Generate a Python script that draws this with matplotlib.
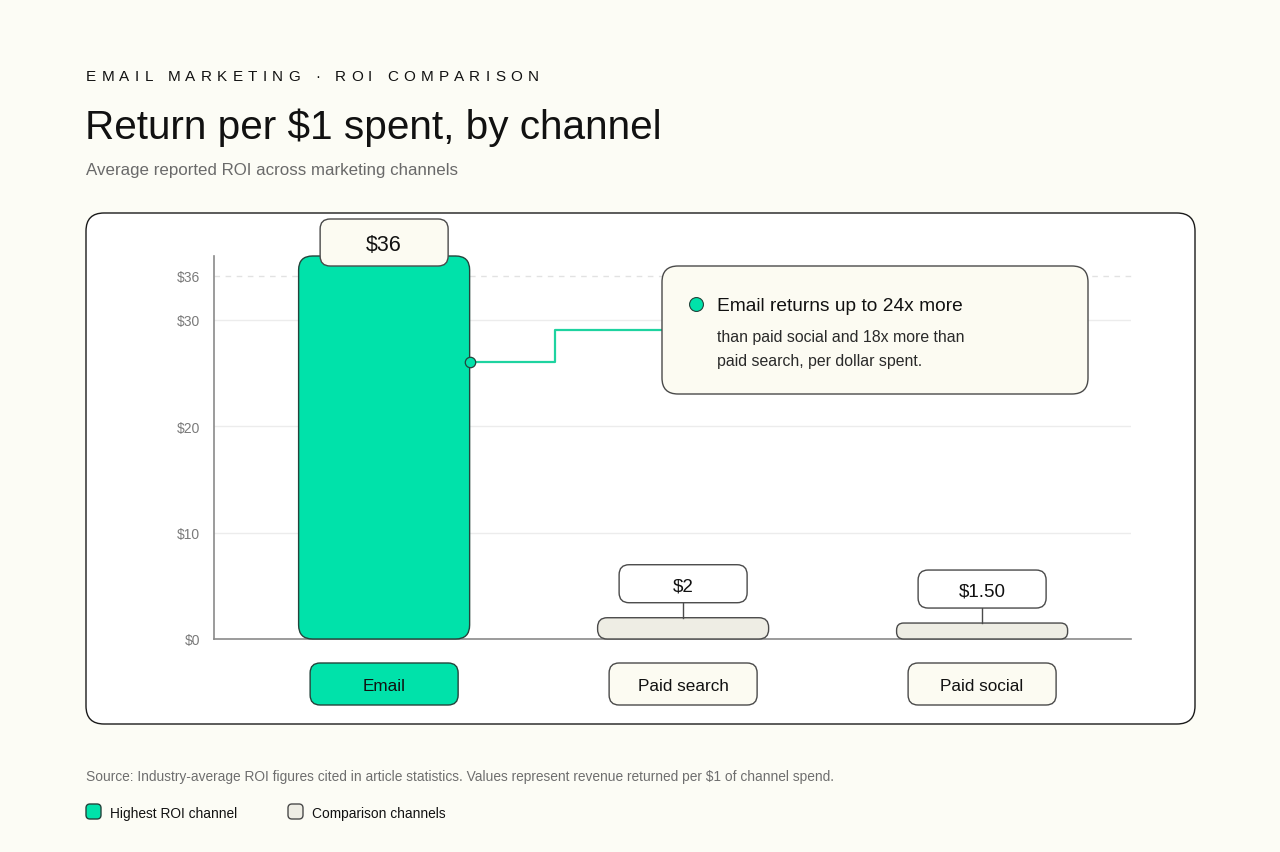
import matplotlib
matplotlib.use("Agg")
import matplotlib.pyplot as plt
from matplotlib.patches import FancyBboxPatch
from matplotlib.transforms import IdentityTransform
from matplotlib.lines import Line2D
from matplotlib.font_manager import FontProperties, findfont, get_font

# ---------------- data ----------------
categories = ["Email", "Paid search", "Paid social"]
roi_values = [36, 2, 1.5]
value_labels = ["$36", "$2", "$1.50"]
highlight = [True, False, False]
y_ticks = [0, 10, 20, 30]
y_tick_labels = ["$0", "$10", "$20", "$30"]
ref_value = 36
ref_label = "$36"

kicker = "EMAIL MARKETING · ROI COMPARISON"
title = "Return per $1 spent, by channel"
subtitle = "Average reported ROI across marketing channels"
callout_title = "Email returns up to 24x more"
callout_body = ["than paid social and 18x more than", "paid search, per dollar spent."]
source = "Source: Industry-average ROI figures cited in article statistics. Values represent revenue returned per $1 of channel spend."
legend_labels = ["Highest ROI channel", "Comparison channels"]

# ---------------- style ----------------
W, H = 1280, 853
BG = "#FCFCF5"
GREEN = "#00E2AA"
GREEN_EDGE = "#24433B"
GRAY_FILL = "#EEEDE4"
CREAM = "#FCFBF2"
DARK = "#111111"
EDGE = "#4a4a4a"
FONT = ["Liberation Sans", "DejaVu Sans"]
plt.rcParams["font.family"] = FONT
VC = 2  # small downward nudge for vertically centred text

fig = plt.figure(figsize=(W / 100, H / 100), dpi=100)
fig.patch.set_facecolor(BG)
ID = IdentityTransform()


def Y(y):  # top-origin pixel -> display
    return H - y


def rbox(x0, y0, x1, y1, r, fc, ec, lw=1.0, z=3):
    """rounded box given in top-origin pixel coords"""
    p = FancyBboxPatch((x0, Y(y1)), x1 - x0, y1 - y0,
                       boxstyle=f"round,pad=0,rounding_size={r}",
                       fc=fc, ec=ec, lw=lw, transform=ID, zorder=z, clip_on=False)
    fig.add_artist(p)
    return p


def ftext(x, y, s, **kw):
    kw.setdefault("transform", ID)
    return fig.text(x, Y(y), s, **kw)


# ---------------- header ----------------
kp_size = 11.0
prop = FontProperties(family="Liberation Sans", size=kp_size)
ft = get_font(findfont(prop))
ft.set_size(kp_size, 100)
tracking = 5.25
xx = 86
for ch in kicker:
    g = ft.load_char(ord(ch))
    adv = g.linearHoriAdvance / 65536
    if ch != " ":
        ftext(xx, 81, ch, fontsize=kp_size, color=DARK, va="baseline", ha="left")
    xx += adv + tracking

ftext(85, 139, title, fontsize=29.2, color=DARK, va="baseline", ha="left")
ftext(86, 175, subtitle, fontsize=12.2, color="#6a6a6a", va="baseline", ha="left")

# ---------------- panel ----------------
panel = FancyBboxPatch((86, Y(725)), 1195 - 86, 725 - 214,
                       boxstyle="round,pad=0,rounding_size=18",
                       fc="white", ec="#1a1a1a", lw=1.0, transform=ID, zorder=0)
fig.add_artist(panel)

# ---------------- axes ----------------
ax_l, ax_r, ax_t, ax_b = 214, 1131, 257, 640
ax = fig.add_axes([ax_l / W, 1 - ax_b / H, (ax_r - ax_l) / W, (ax_b - ax_t) / H])
ax.set_facecolor("none")
ax.set_zorder(2)
ax.set_xlim(-0.569, 2.498)
ax.set_ylim(0, ref_value)
for s in ["top", "right"]:
    ax.spines[s].set_visible(False)
for s in ["left", "bottom"]:
    ax.spines[s].set_color("#8a8a8a")
    ax.spines[s].set_linewidth(1.2)
ax.set_xticks([])
ax.set_yticks(y_ticks)
ax.set_yticklabels(y_tick_labels, fontsize=10, color="#7a7a7a")
ax.tick_params(axis="y", length=0, pad=10)
for t in y_ticks[1:]:
    ax.axhline(t, color="#ececec", lw=1.0, zorder=0)

fig.canvas.draw()


def d2p(x, y):
    px, py = ax.transData.transform((x, y))
    return px, H - py  # top-origin pixels


# reference line (drawn slightly below the maximum like the source chart)
ref_offset = 20
_, ref_y = d2p(0, ref_value)
ref_y += ref_offset
x_left, _ = d2p(ax.get_xlim()[0], 0)
x_right, _ = d2p(ax.get_xlim()[1], 0)
fig.add_artist(Line2D([x_left, x_right], [Y(ref_y), Y(ref_y)], transform=ID,
                      color="#e2e2e2", lw=1.0, ls=(0, (4, 4)), zorder=1))
ftext(x_left - 14, ref_y + 1, ref_label, fontsize=10, color="#7a7a7a",
      ha="right", va="center")

# ---------------- bars ----------------
bar_w = 0.572
for i, (cat, v, lab, hi) in enumerate(zip(categories, roi_values, value_labels, highlight)):
    x0, y_bot = d2p(i - bar_w / 2, 0)
    x1, y_top = d2p(i + bar_w / 2, v)
    cx = (x0 + x1) / 2
    h = y_bot - y_top
    r = min(14, h / 2 - 1)
    p = FancyBboxPatch((x0, Y(y_bot)), x1 - x0, h,
                       boxstyle=f"round,pad=0,rounding_size={r}",
                       fc=GREEN if hi else GRAY_FILL,
                       ec=GREEN_EDGE if hi else EDGE, lw=1.0,
                       transform=ID, zorder=3, clip_on=False)
    ax.add_patch(p)

    # value label box
    if hi:
        bh, bw = 47, 128
        b_bot = y_top + 10
        fs = 15.5
    else:
        bh, bw = 38, 128
        b_bot = y_top - 15
        fs = 13.5
        fig.add_artist(Line2D([cx, cx], [Y(y_top), Y(b_bot)], transform=ID,
                              color=EDGE, lw=1.0, zorder=4))
    rbox(cx - bw / 2, b_bot - bh, cx + bw / 2, b_bot, 10,
         CREAM if hi else "white", EDGE, lw=1.0, z=5)
    ftext(cx, b_bot - bh / 2 + VC, lab, fontsize=fs, color=DARK, ha="center",
          va="center", zorder=6)

    # category label box
    rbox(cx - 74, 664, cx + 74, 706, 10, GREEN if hi else CREAM,
         GREEN_EDGE if hi else EDGE, lw=1.0, z=5)
    ftext(cx, 685 + VC, cat, fontsize=12.3, color=DARK, ha="center", va="center", zorder=6)

# ---------------- callout ----------------
anchor_val, elbow_val = 26, 29
bx0, _ = d2p(0 + bar_w / 2, 0)
_, ay = d2p(0, anchor_val)
_, ey = d2p(0, elbow_val)
elbow_x = bx0 + 85
cb_x0, cb_x1, cb_y0, cb_y1 = 662, 1088, 267, 395
fig.add_artist(Line2D([bx0, elbow_x, elbow_x, cb_x0], [Y(ay), Y(ay), Y(ey), Y(ey)],
                      transform=ID, color="#1ed3a0", lw=1.6, zorder=4))
fig.add_artist(Line2D([bx0], [Y(ay)], transform=ID, marker="o", ms=7.5,
                      mfc=GREEN, mec=GREEN_EDGE, mew=0.9, zorder=6))
rbox(cb_x0, cb_y0, cb_x1, cb_y1, 16, CREAM, EDGE, lw=1.0, z=5)
fig.add_artist(Line2D([696], [Y(305)], transform=ID, marker="o", ms=10,
                      mfc=GREEN, mec=GREEN_EDGE, mew=0.8, zorder=6))
ftext(717, 305 + VC, callout_title, fontsize=13.8, color=DARK, ha="left", va="center", zorder=6)
for k, line in enumerate(callout_body):
    ftext(717, 336 + 24 * k + VC, line, fontsize=11.4, color="#2a2a2a", ha="left",
          va="center", zorder=6)

# ---------------- footer ----------------
ftext(86, 776 + 1, source, fontsize=9.95, color="#6e6e6e", ha="left", va="center")
leg_x = [86, 288]
leg_fc = [GREEN, GRAY_FILL]
leg_ec = [GREEN_EDGE, EDGE]
for lx, lab, fc, ec in zip(leg_x, legend_labels, leg_fc, leg_ec):
    rbox(lx, 805, lx + 15, 820, 4, fc, ec, lw=1.0, z=3)
    ftext(lx + 24, 813 + 1, lab, fontsize=9.9, color=DARK, ha="left", va="center")

fig.savefig("out.png", dpi=100, facecolor=BG)
